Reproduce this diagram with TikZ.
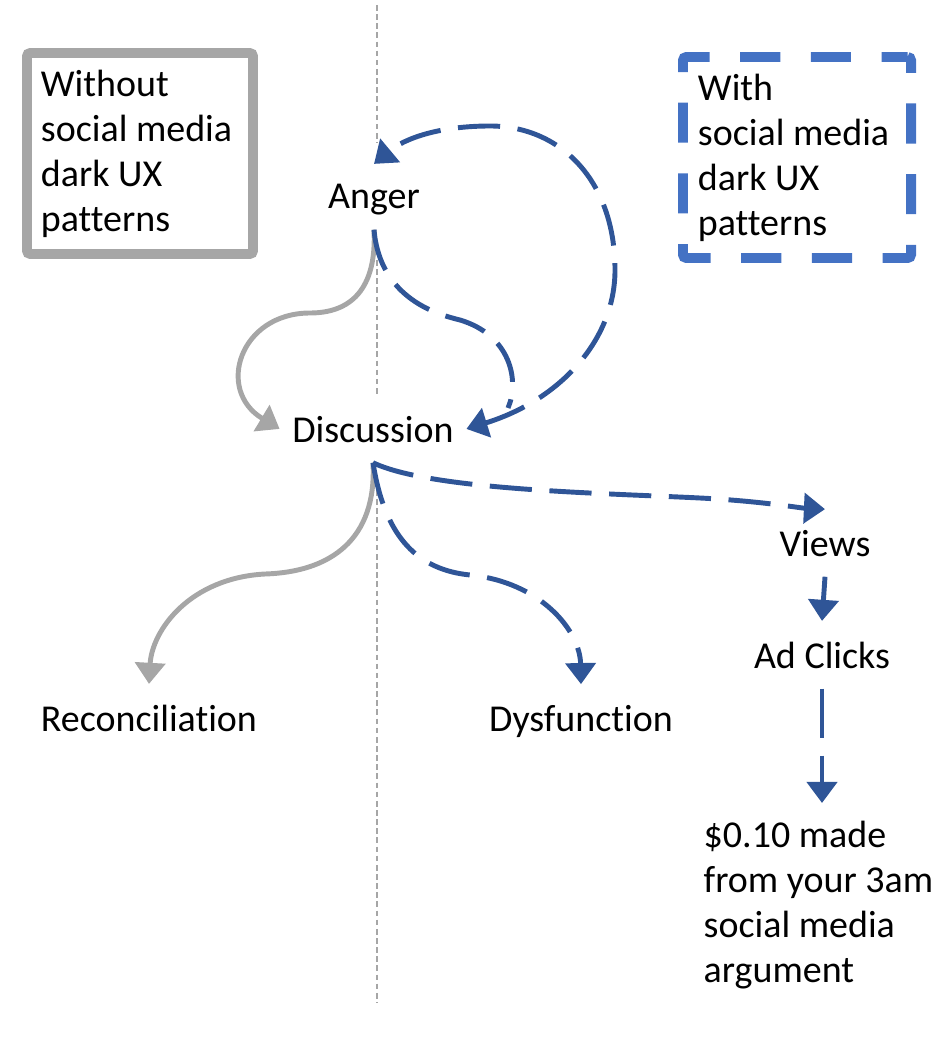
\documentclass[tikz,border=0pt]{standalone}
\usepackage{fontspec}
\setmainfont{Carlito}[Ligatures=NoCommon]
\usetikzlibrary{arrows.meta}
\definecolor{darkblue}{HTML}{2F5597}
\definecolor{boxblue}{HTML}{4472C4}
\definecolor{midgray}{HTML}{A6A6A6}
\begin{document}
\begin{tikzpicture}
  [x=0.01cm,y=-0.01cm,
   every node/.style={font=\fontsize{10.8}{12.8}\selectfont},
   word/.style={inner xsep=0.12cm,inner ysep=0.2cm,text depth=0pt,anchor=base},
   legend/.style={align=flush left,text width=1.98cm,minimum height=2.01cm,line width=2.8pt},
   tip/.style={-{Triangle[length=6pt,width=8.5pt]}},
   grayline/.style={draw=midgray,line width=1.4pt,tip},
   blueline/.style={draw=darkblue,line width=1.4pt},
   bluedash/.style={blueline,dash pattern=on 12pt off 5pt}]
\useasboundingbox (0,0) rectangle (948,1040);

% divider between the two halves
\foreach \top/\bottom in {5/143,260/397,490/1003}
  \draw[midgray,line width=0.45pt,dash pattern=on 1.6pt off 1pt] (377,\top) -- (377,\bottom);

% legends
\node (without)[legend,draw=midgray,rounded corners=1pt,inner xsep=0.14cm] at (140,153.5)
  {Without\\social media\\dark UX\\patterns};
\node (with)[legend,draw=boxblue,rounded corners=1pt,inner xsep=0.15cm,
  dash pattern=on 11.4pt off 8.7pt,dash phase=4pt] at (797,157.5)
  {With\\social media\\dark UX\\patterns};

% states
\node (anger)[word] at (374,209) {Anger};
\node (discussion)[word] at (373,442) {Discussion};
\node (reconciliation)[word] at (149,731) {Reconciliation};
\node (dysfunction)[word] at (581,731) {Dysfunction};
\node (views)[word] at (825,556) {Views};
\node (adclicks)[word] at (822,668) {Ad Clicks};
\node (money)[anchor=north west,align=flush left,inner xsep=0pt,inner ysep=0.17cm] at (703,803)
  {\$0.10 made\\from your 3am\\social media\\argument};
\coordinate (innerend) at (508,408);

% without dark patterns
\draw[grayline] (anger.south) .. controls (377,290) and (350,313) .. (310,313)
  .. controls (240,313) and (215,390) .. (discussion.west);
\draw[grayline] (discussion.south) .. controls (377,540) and (330,572) .. (265,574)
  .. controls (190,578) and (152,630) .. (reconciliation.north);

% with dark patterns
\draw[bluedash] (anger.south) .. controls (380,300) and (440,315) .. (460,320)
  .. controls (510,335) and (520,380) .. (innerend);
\draw[bluedash,{Triangle[length=6pt,width=8.5pt]}-{Triangle[length=6pt,width=8.5pt]}]
  (discussion.east) .. controls (560,400) and (615,340) .. (615,270)
  .. controls (615,180) and (560,126) .. (490,126)
  .. controls (440,126) and (405,138) .. (anger.north);
\draw[bluedash,tip] (discussion.south) .. controls (385,540) and (420,570) .. (470,575)
  .. controls (540,582) and (580,630) .. (dysfunction.north);
\draw[bluedash,tip] (discussion.south) .. controls (430,490) and (600,493) .. (700,498)
  .. controls (760,501) and (800,508) .. (views.north);
\draw[blueline,tip] (views.south) -- (adclicks.north);
\draw[blueline,tip,dash pattern=on 14pt off 5pt] (adclicks.south) -- (adclicks.south |- money.north);
\end{tikzpicture}
\end{document}
